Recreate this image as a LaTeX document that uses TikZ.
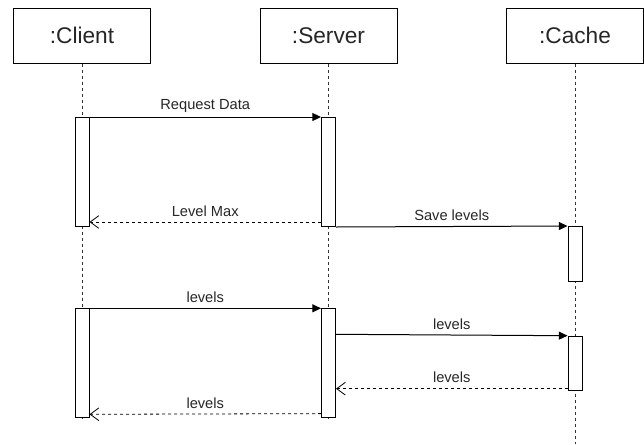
\documentclass[tikz,border=0pt]{standalone}
\usepackage{fontspec}
\setmainfont{Liberation Sans}
\usetikzlibrary{arrows.meta,backgrounds}

\begin{document}
\begin{tikzpicture}[x=0.75pt,y=-0.75pt,
head/.style={rectangle,draw=black,fill=white,line width=0.75pt,minimum width=102.75pt,minimum height=41.25pt,anchor=north,font=\fontsize{17}{20}\selectfont,text=black!85},
act/.style={rectangle,draw=black,fill=white,line width=0.75pt,minimum width=10.5pt,inner sep=0pt,anchor=north},
lifeline/.style={black!80,line width=0.6pt,dash pattern=on 2.25pt off 2.25pt},
call/.style={-{Triangle[length=6.5pt,width=6pt]},line width=0.75pt},
ret/.style={-{Straight Barb[length=6.5pt,width=9.5pt]},line width=0.6pt,dash pattern=on 2.25pt off 2.25pt},
msg/.style={font=\fontsize{11}{13}\selectfont,text=black!85,yshift=8.25pt,inner sep=0pt}]
	\useasboundingbox (0,0) rectangle (644,444);
	%lifeline heads
	\node[head] at (82,7.5) (client) {:Client};
	\node[head] at (328.5,7.5) (server) {:Server};
	\node[head] at (575,7.5) (cache) {:Cache};
	%activations
	\node[act,minimum height=81.75pt] at (82,117) (actC1) {};
	\node[act,minimum height=81.75pt] at (328.5,117) (actS1) {};
	\node[act,minimum height=41pt] at (575,226) (actK1) {};
	\node[act,minimum height=81.75pt] at (82,308.3) (actC2) {};
	\node[act,minimum height=81.75pt] at (328.5,308.3) (actS2) {};
	\node[act,minimum height=40.75pt] at (575,335.7) (actK2) {};
	\coordinate (cacheEnd) at (575,444);
	%lifelines
	\begin{scope}[on background layer]
	\draw[lifeline] (client.south) -- (actC2.south);
	\draw[lifeline] (server.south) -- (actS2.south);
	\draw[lifeline] (cache.south) -- (cacheEnd);
	\end{scope}
	%messages
	\draw[call] (actC1.north east) -- node[msg,midway] {Request Data} (actS1.north west);
	\draw[ret] ([yshift=3.75pt]actS1.south west) -- node[msg,midway] {Level Max} ([yshift=3.75pt]actC1.south east);
	\draw[call] (actS1.south east) -- node[msg,midway] {Save levels} (actK1.north west);
	\draw[call] (actC2.north east) -- node[msg,midway] {levels} (actS2.north west);
	\draw[call] ([yshift=-19.5pt]actS2.north east) -- node[msg,midway] {levels} (actK2.north west);
	\draw[ret] ([yshift=1.75pt]actK2.south west) coordinate (r1) -- node[msg,midway] {levels} (r1 -| actS2.east);
	\draw[ret] ([yshift=3.5pt]actS2.south west) -- node[msg,midway] {levels} ([yshift=3pt]actC2.south east);
\end{tikzpicture}
\end{document}
